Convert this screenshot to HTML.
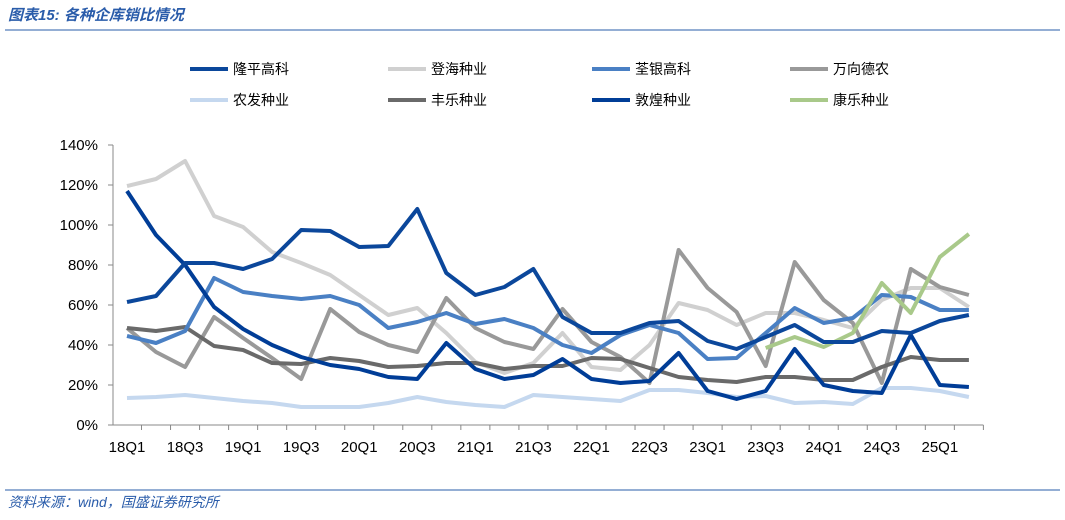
<!DOCTYPE html>
<html><head><meta charset="utf-8">
<style>
body{margin:0;background:#fff;width:1065px;height:515px;overflow:hidden;font-family:"Liberation Sans","Noto Sans CJK SC",sans-serif}
</style></head>
<body>
<svg width="1065" height="515" xmlns="http://www.w3.org/2000/svg" id="chart">
<text x="8" y="20" font-size="15" font-style="italic" font-weight="bold" fill="#2a5caa" font-family="Liberation Sans,Noto Sans CJK SC,sans-serif">图表15:  各种企库销比情况</text>
<line x1="5" y1="30" x2="1060" y2="30" stroke="#2a5caa" stroke-width="1"/>
<line x1="5" y1="490" x2="1060" y2="490" stroke="#2a5caa" stroke-width="1"/>
<text x="8" y="507" font-size="14" font-style="italic" fill="#2a5caa" font-family="Liberation Sans,Noto Sans CJK SC,sans-serif">资料来源：wind，国盛证券研究所</text>
<g id="legend"></g>
<g id="axes"></g>
<g id="series"></g>
</svg>
<script>
const categories=["18Q1","18Q2","18Q3","18Q4","19Q1","19Q2","19Q3","19Q4","20Q1","20Q2","20Q3","20Q4","21Q1","21Q2","21Q3","21Q4","22Q1","22Q2","22Q3","22Q4","23Q1","23Q2","23Q3","23Q4","24Q1","24Q2","24Q3","24Q4","25Q1","25Q2"];
const yTicks=[0,20,40,60,80,100,120,140];
const longping=[61.5,64.5,81,81,78,83,97.5,97,89,89.5,108,76,65,69,78,54,46,46,51,52,42,38,44,50,41.5,41.5,47,46,52,55];
const denghai=[119.5,123,132,104.5,99,86.5,81,75,65,55,58.5,46,31.5,26,31,46,29,27.5,40,61,57.5,50,56,56,52.5,48.5,62.5,68.5,68.5,59];
const quanyin=[44.5,41,47,73.5,66.5,64.5,63,64.5,60,48.5,51.5,56,50.5,53,48.5,40,36,45,50,46,33,33.5,46,58.5,51,53.5,65,64,57.5,57.5];
const wanxiang=[48.5,36.5,29,54,43.5,33.5,23,58,46.5,40,36.5,63.5,48.5,41.5,38,58,41.5,34,21,87.5,68.5,56.5,29.5,81.5,62.5,51,21,78,69,65];
const nongfa=[13.5,14,15,13.5,12,11,9,9,9,11,14,11.5,10,9,15,14,13,12,17.5,17.5,16,14,14.5,11,11.5,10.5,18.5,18.5,17,14];
const fengle=[48.5,47,49,39.5,37.5,31,30.5,33.5,32,29,29.5,31,31,28,29.5,29.5,33.5,33,28.5,24,22.5,21.5,24,24,22.5,22.5,29,34,32.5,32.5];
const dunhuang=[117,95,80,59,48,40,34,30,28,24,23,41,28,23,25,33,23,21,22,36,17,13,17,38,20,17,16,45,20,19];
const kangle=[null,null,null,null,null,null,null,null,null,null,null,null,null,null,null,null,null,null,null,null,null,null,38.5,44,39,46,71,56,84,95.5];
const seriesNames=["隆平高科","登海种业","荃银高科","万向德农","农发种业","丰乐种业","敦煌种业","康乐种业"];
const seriesData=[longping,denghai,quanyin,wanxiang,nongfa,fengle,dunhuang,kangle];
const colors=["#0b479b","#d0d0d0","#4a80c4","#999999","#c5d8ef","#6a6a6a","#003d97","#a9c98a"];
const ids=["longping","denghai","quanyin","wanxiang","nongfa","fengle","dunhuang","kangle"];
const NS="http://www.w3.org/2000/svg";
const x0=127,step=29.03,yBase=425,yTop=145;
function xs(i){return x0+i*step;}
function ys(v){return yBase-(v/140)*(yBase-yTop);}
function mk(t,a,p){const e=document.createElementNS(NS,t);for(const k in a)e.setAttribute(k,a[k]);p.appendChild(e);return e;}
const axes=document.getElementById('axes');
const ff="Liberation Sans,Noto Sans CJK SC,sans-serif";
yTicks.forEach(v=>{
 const t=mk('text',{x:98,y:ys(v)+5,'text-anchor':'end','font-size':15,fill:'#000','font-family':ff},axes);
 t.textContent=v+'%';
 
 
 const tk=mk('line',{x1:108,x2:113,y1:ys(v),y2:ys(v),stroke:'#888'},axes);
 
 
});
const ya=mk('line',{x1:113,x2:113,y1:yTop,y2:yBase,stroke:'#888'},axes);


const xa=mk('line',{x1:113,x2:xs(categories.length-1)+step/2,y1:yBase,y2:yBase,stroke:'#888'},axes);


categories.forEach((c,i)=>{
 const tk=mk('line',{x1:xs(i)+step/2,x2:xs(i)+step/2,y1:yBase,y2:yBase+5,stroke:'#888'},axes);
 
 
 if(i%2===0){
  const t=mk('text',{x:xs(i),y:yBase+27,'text-anchor':'middle','font-size':15,fill:'#000','font-family':ff},axes);
  t.textContent=c;
  
  
 }
});
const sg=document.getElementById('series');
const order=[4,1,3,5,2,7,6,0];
order.forEach(k=>{
 const d=seriesData[k];let pts=[];
 d.forEach((v,i)=>{if(v!==null)pts.push(xs(i).toFixed(1)+','+ys(v).toFixed(1));});
 const p=mk('polyline',{points:pts.join(' '),fill:'none',stroke:colors[k],'stroke-width':4,'stroke-linejoin':'round'},sg);
 
 
});
const lg=document.getElementById('legend');
const lx=[190,388,592,790];
seriesNames.forEach((n,k)=>{
 const x=lx[k%4],y=k<4?69:100;
 const g=mk('g',{},lg);
 
 
 mk('line',{x1:x,x2:x+38,y1:y,y2:y,stroke:colors[k],'stroke-width':4},g);
 const t=mk('text',{x:x+43,y:y+5,'font-size':14,fill:'#000','font-family':ff},g);
 t.textContent=n;
});
</script>
</body></html>
